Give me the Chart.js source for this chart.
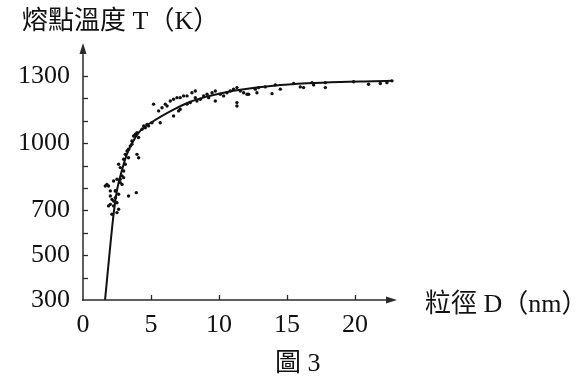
<!DOCTYPE html>
<html>
<head>
<meta charset="utf-8">
<script src="https://cdn.jsdelivr.net/npm/chart.js@4/dist/chart.umd.min.js"></script>
<style>
  html, body { margin: 0; padding: 0; background: #fff; }
  #wrap { position: relative; width: 587px; height: 384px; overflow: hidden; }
  #c { position: absolute; left: 0; top: 0; }
  .t { position: absolute; white-space: nowrap; color: #111; font-family: "Liberation Serif", "Noto Sans CJK TC", serif; font-size: 26px; line-height: 1; }
</style>
</head>
<body>
<div id="wrap">
  <canvas id="c" width="587" height="384"></canvas>
  <div class="t" id="ytitle" style="left:22px; top:8px;">熔點溫度 T（K）</div>
  <div class="t" id="xtitle" style="left:425px; top:291px;">粒徑 D（nm）</div>
  <div class="t" id="cap" style="left:275px; top:350px;">圖 3</div>
</div>
<script>
// ---- data ----
const xTickLabels = [0, 5, 10, 15, 20];
const yTickLabels = [300, 500, 700, 1000, 1300];
const yMinorTicks = [400, 500, 600, 700, 800, 900, 1000, 1100, 1200, 1300];

// fitted curve (particle diameter D in nm, melting temperature T in K)
const curveD = [1.62, 2.25, 2.50, 2.87, 3.24, 3.85, 4.21, 5.19, 6.66, 7.89, 9.12, 10.34, 11.57, 14.0, 16.47, 18.92, 21.37, 22.72];
const curveT = [300, 683, 790, 880, 952, 1025, 1055, 1099, 1150, 1185, 1208, 1225, 1238, 1256, 1267, 1273, 1276, 1278];

// measured points
const scatterD = [1.64,1.88,2.01,2.13,2.25,2.38,2.01,2.25,2.5,2.62,2.13,2.5,2.87,2.99,2.74,3.35,3.92,1.88,2.38,2.62,
1.76,2.01,2.38,2.25,2.74,2.5,2.87,2.62,2.74,2.99,3.11,3.35,3.24,3.48,3.6,3.85,3.97,4.09,4.34,4.58,4.82,5.07,3.97,4.09,3.72,3.35,3.11,2.99,3.6,
4.46,4.71,5.19,5.56,5.81,6.05,6.18,6.42,6.66,6.91,7.15,7.4,7.65,8.01,8.26,8.38,8.26,5.68,6.66,7.03,7.15,7.65,7.89,8.63,9.12,9.49,9.73,10.1,10.34,10.59,10.83,11.07,11.32,11.57,11.32,11.32,9.73,9.24,8.87,12.06,
11.81,12.18,12.67,12.79,12.91,13.4,13.9,14.14,14.51,15.49,15.98,16.22,16.84,16.96,17.82,17.82,19.9,21.0,21.86,22.35,22.72];
const scatterT = [809,809,764,749,742,757,727,720,734,705,683,690,816,846,839,764,779,720,787,772,
816,787,787,831,824,839,854,906,891,876,906,935,965,987,1010,1040,1047,1025,1062,1069,1077,1091,950,935,1032,973,950,928,995,
1077,1084,1174,1144,1158,1174,1166,1188,1196,1203,1203,1211,1211,1225,1233,1188,1203,1091,1121,1144,1151,1174,1181,1196,1218,1225,1233,1218,1211,1225,1233,1241,1248,1233,1181,1166,1188,1203,1211,1218,
1225,1218,1241,1225,1248,1251,1221,1260,1241,1266,1251,1248,1270,1260,1248,1270,1274,1263,1266,1270,1278];

const curvePts = curveD.map((d, i) => ({ x: d, y: curveT[i] }));
const scatterPts = scatterD.map((d, i) => ({ x: d, y: scatterT[i] }));

const AXIS = '#2a2a2a';
const FONT = { family: '"Liberation Serif", serif', size: 26 };

const axesPlugin = {
  id: 'axesArrows',
  afterDraw(chart) {
    const { ctx, chartArea: a, scales } = chart;
    const x0 = a.left, y0 = a.bottom;
    ctx.save();
    ctx.strokeStyle = AXIS;
    ctx.fillStyle = AXIS;
    ctx.lineWidth = 1.5;
    // y axis
    ctx.beginPath();
    ctx.moveTo(x0, y0 + 0.5);
    ctx.lineTo(x0, a.top + 8);
    ctx.stroke();
    ctx.beginPath();
    ctx.moveTo(x0, a.top);
    ctx.lineTo(x0 - 3.5, a.top + 11);
    ctx.lineTo(x0 + 3.5, a.top + 11);
    ctx.closePath();
    ctx.fill();
    // x axis
    ctx.beginPath();
    ctx.moveTo(x0 - 1, y0);
    ctx.lineTo(a.right - 8, y0);
    ctx.stroke();
    ctx.beginPath();
    ctx.moveTo(a.right, y0);
    ctx.lineTo(a.right - 11, y0 - 3.5);
    ctx.lineTo(a.right - 11, y0 + 3.5);
    ctx.closePath();
    ctx.fill();
    // y minor ticks (inside)
    ctx.lineWidth = 1.3;
    yMinorTicks.forEach(v => {
      const py = Math.round(scales.y.getPixelForValue(v)) + 0.5;
      ctx.beginPath();
      ctx.moveTo(x0, py);
      ctx.lineTo(x0 + 5, py);
      ctx.stroke();
    });
    // x ticks (inside)
    xTickLabels.forEach(v => {
      if (v === 0) return;
      const px = Math.round(scales.x.getPixelForValue(v)) + 0.5;
      ctx.beginPath();
      ctx.moveTo(px, y0);
      ctx.lineTo(px, y0 - 5);
      ctx.stroke();
    });
    ctx.restore();
  }
};

new Chart(document.getElementById('c'), {
  type: 'scatter',
  data: {
    datasets: [
      {
        label: 'curve',
        data: curvePts,
        showLine: true,
        borderColor: '#111',
        borderWidth: 2,
        pointRadius: 0,
        cubicInterpolationMode: 'monotone',
        fill: false,
        order: 1
      },
      {
        label: 'points',
        data: scatterPts,
        showLine: false,
        backgroundColor: '#111',
        borderColor: '#111',
        borderWidth: 0,
        pointRadius: 1.7,
        order: 0
      }
    ]
  },
  options: {
    responsive: false,
    animation: false,
    devicePixelRatio: 1,
    layout: { padding: { left: 0, right: 190, top: 43, bottom: 0 } },
    plugins: { legend: { display: false }, tooltip: { enabled: false }, title: { display: false } },
    scales: {
      x: {
        type: 'linear',
        min: 0,
        max: 23.09,
        grid: { display: false, drawTicks: false },
        border: { display: false },
        afterBuildTicks: s => { s.ticks = xTickLabels.map(v => ({ value: v })); },
        afterFit: s => { s.height = 84; },
        ticks: { font: FONT, color: '#111', padding: 10, maxRotation: 0, autoSkip: false, callback: v => String(v) }
      },
      y: {
        type: 'linear',
        min: 300,
        max: 1447,
        grid: { display: false, drawTicks: false },
        border: { display: false },
        afterBuildTicks: s => { s.ticks = yTickLabels.map(v => ({ value: v })); },
        afterFit: s => { s.width = 83; },
        ticks: { font: FONT, color: '#111', padding: 13, autoSkip: false, callback: v => String(v) }
      }
    }
  },
  plugins: [axesPlugin]
});
</script>
</body>
</html>
